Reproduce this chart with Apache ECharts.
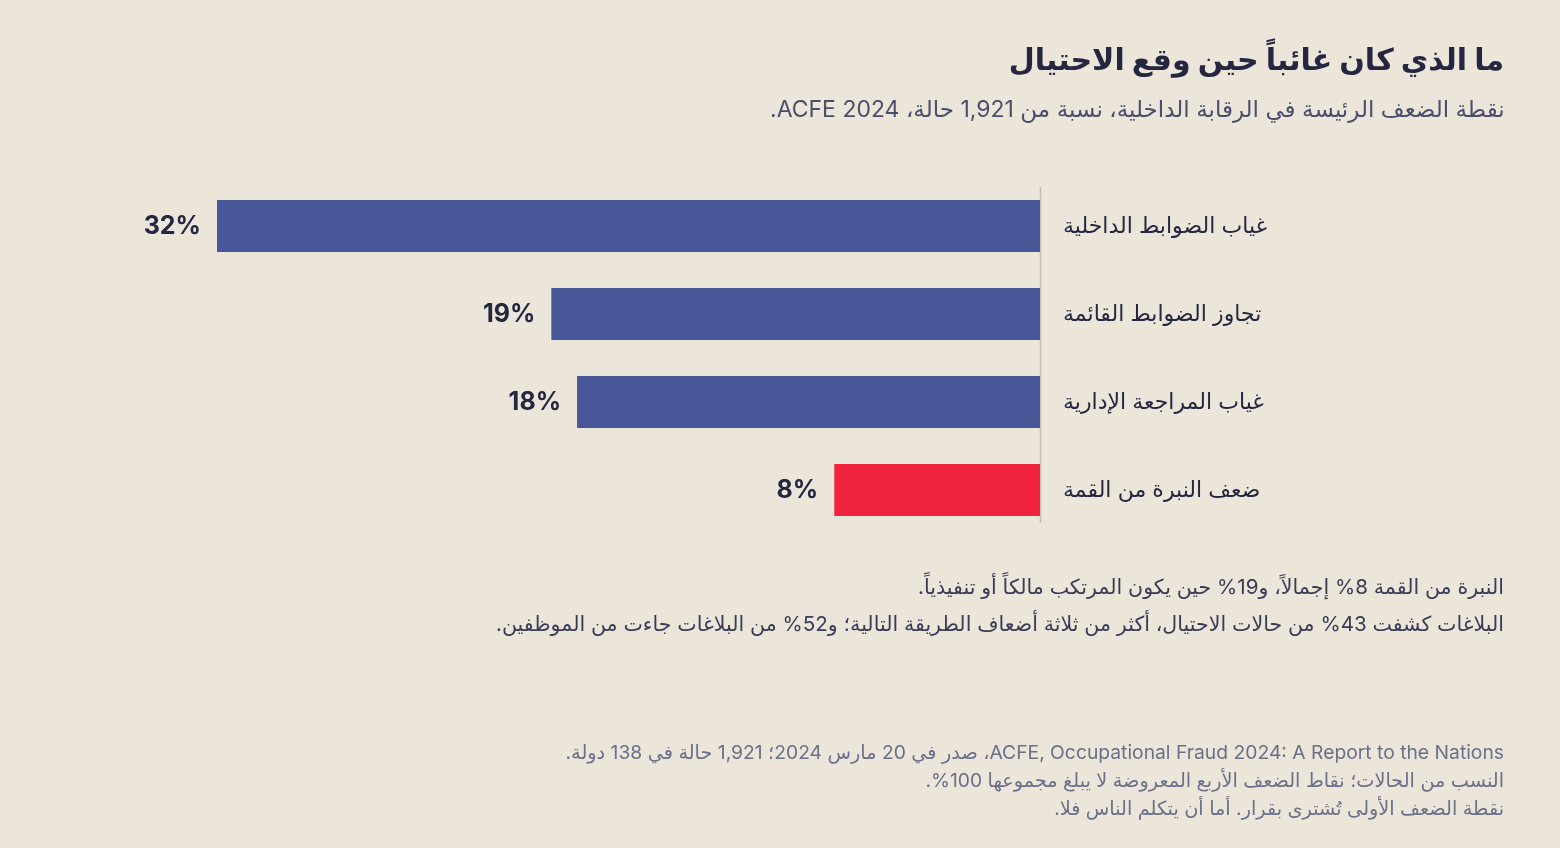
<!DOCTYPE html>
<html lang="ar">
<head>
<meta charset="utf-8">
<title>ما الذي كان غائباً حين وقع الاحتيال</title>
<script src="https://cdn.jsdelivr.net/npm/echarts@6/dist/echarts.min.js"></script>
<style>
  html, body { margin: 0; padding: 0; background: #ebe5da; }
  #chart { width: 1560px; height: 848px; direction: rtl; }
</style>
</head>
<body>
<div id="chart" dir="rtl"></div>
<script>
// البيانات
var categories = ['غياب الضوابط الداخلية', 'تجاوز الضوابط القائمة', 'غياب المراجعة الإدارية', 'ضعف النبرة من القمة'];
var values = [32, 19, 18, 8];
var highlight = [false, false, false, true];

var titleText = 'ما الذي كان غائباً حين وقع الاحتيال';
var subtitleText = 'نقطة الضعف الرئيسة في الرقابة الداخلية، نسبة من 1,921 حالة، ACFE 2024.';
var notes = [
    'النبرة من القمة 8% إجمالاً، و19% حين يكون المرتكب مالكاً أو تنفيذياً.',
    'البلاغات كشفت 43% من حالات الاحتيال، أكثر من ثلاثة أضعاف الطريقة التالية؛ و52% من البلاغات جاءت من الموظفين.'
];
var footnotes = [
    'ACFE, Occupational Fraud 2024: A Report to the Nations، صدر في 20 مارس 2024؛ 1,921 حالة في 138 دولة.',
    'النسب من الحالات؛ نقاط الضعف الأربع المعروضة لا يبلغ مجموعها 100%.',
    'نقطة الضعف الأولى تُشترى بقرار. أما أن يتكلم الناس فلا.'
];

var FONT = 'Inter, "Noto Sans", "DejaVu Sans", sans-serif';
var BLUE = '#475696';
var RED = '#ef233c';
var INK = '#25263f';

var chart = echarts.init(document.getElementById('chart'));

// نصوص العنوان والملاحظات
var titles = [
    { text: titleText, right: 56, top: 46, padding: 0,
      textStyle: { fontFamily: FONT, fontSize: 30, fontWeight: 'bold', color: INK } },
    { text: subtitleText, right: 56, top: 99, padding: 0,
      textStyle: { fontFamily: FONT, fontSize: 23, fontWeight: 'normal', color: '#4b4e6a' } }
];
for (var n = 0; n < notes.length; n++) {
    titles.push({ text: notes[n], right: 56, top: 577 + n * 37, padding: 0,
        textStyle: { fontFamily: FONT, fontSize: 20.6, fontWeight: 'normal', color: '#3a3c56' } });
}
for (var f = 0; f < footnotes.length; f++) {
    titles.push({ text: footnotes[f], right: 56, top: 744 + f * 28, padding: 0,
        textStyle: { fontFamily: FONT, fontSize: 19.3, fontWeight: 'normal', color: '#6b7088' } });
}

var barData = [];
for (var i = 0; i < values.length; i++) {
    barData.push({ value: values[i], itemStyle: { color: highlight[i] ? RED : BLUE } });
}

chart.setOption({
    backgroundColor: '#ebe5da',
    animation: false,
    title: titles,
    grid: { left: 217, right: 520, top: 182, bottom: 314 },
    xAxis: {
        type: 'value', inverse: true, min: 0, max: 32,
        show: false
    },
    yAxis: {
        type: 'category', inverse: true, position: 'right',
        data: categories,
        axisLine: { show: false },
        axisTick: { show: false },
        axisLabel: {
            margin: 23, align: 'left',
            fontFamily: FONT, fontSize: 22, color: INK,
            padding: [6, 0, 0, 0]
        }
    },
    series: [{
        type: 'bar',
        data: barData,
        barWidth: 52,
        label: {
            show: true, position: 'left', distance: 16,
            formatter: '{c}%',
            fontFamily: FONT, fontSize: 25, fontWeight: 'bold', color: INK,
            padding: [4, 0, 0, 0]
        }
    }]
});

// خط الأساس عند الصفر
var x0 = chart.convertToPixel({ xAxisIndex: 0 }, 0);
chart.setOption({
    graphic: [{
        type: 'line', silent: true,
        shape: { x1: x0 + 0.5, y1: 187, x2: x0 + 0.5, y2: 523 },
        style: { stroke: '#c6bdae', lineWidth: 1.5 }
    }]
});
</script>
</body>
</html>
